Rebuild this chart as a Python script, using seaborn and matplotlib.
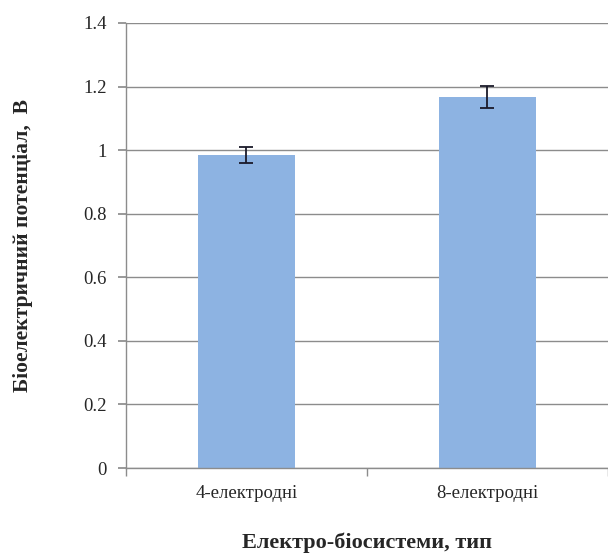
# -*- coding: utf-8 -*-
"""
Bar chart of bioelectric potential by electro-biosystem type
"""

import numpy as np
import matplotlib
matplotlib.use("Agg")
import matplotlib.pyplot as plt
import seaborn as sns

# data
categories = ["4-електродні", "8-електродні"]
potential = [0.985, 1.168]
errors = [0.025, 0.035]

# set theme
sns.set_theme(style="white")
plt.rcParams['font.family'] = ['Liberation Serif', 'DejaVu Serif']

fig = plt.figure(figsize=(6.08, 5.54), dpi=100)
ax = fig.add_axes([0.2072, 0.1552, 0.7928, 0.8033])

# grid
ax.set_ylim(0, 1.4)
ax.set_yticks(np.arange(0, 1.41, 0.2))
ax.yaxis.grid(True, color='#8c8c8c', linewidth=1)
ax.set_axisbelow(True)

# bars
sns.barplot(x=categories, y=potential, color='#8db3e2', saturation=1,
            width=0.4, ax=ax, edgecolor='none')
ax.errorbar(range(len(categories)), potential, yerr=errors, fmt='none',
            ecolor='#1a1a2a', elinewidth=1.3, capsize=5, capthick=1.3)

ax.set_xlim(-0.5, 1.5)

# spines and ticks
for s in ['top', 'right']:
    ax.spines[s].set_visible(False)
for s in ['left', 'bottom']:
    ax.spines[s].set_color('#8c8c8c')
    ax.spines[s].set_linewidth(1)

ax.set_yticklabels(['0', '0.2', '0.4', '0.6', '0.8', '1', '1.2', '1.4'])
ax.tick_params(axis='y', which='major', direction='out', length=6,
               color='#8c8c8c', labelsize=13.5, pad=8, left=True)
ax.tick_params(axis='x', which='major', length=0, labelsize=13.5, pad=12)
ax.set_xticks([-0.5, 0.5, 1.5], minor=True)
ax.tick_params(axis='x', which='minor', direction='out', length=6,
               color='#8c8c8c', bottom=True)

ax.set_xlabel("Електро-біосистеми, тип", fontsize=16, fontweight='bold',
              labelpad=22)
ax.set_ylabel("Біоелектричний потенціал,  В", fontsize=15.5, fontweight='bold',
              labelpad=36)

plt.savefig('out.png', dpi=100)
